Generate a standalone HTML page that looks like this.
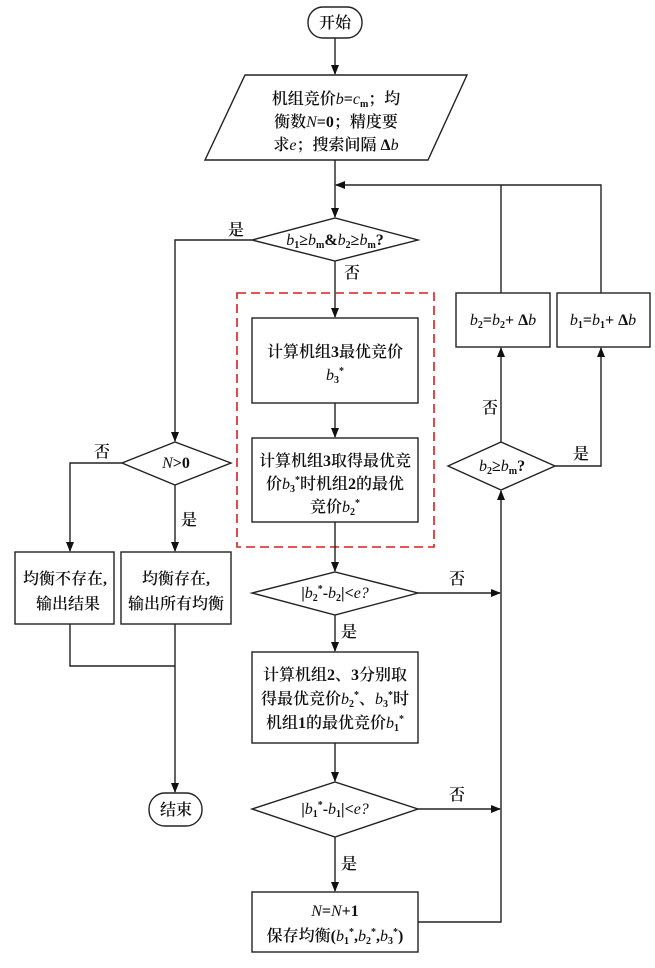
<!DOCTYPE html>
<html><head><meta charset="utf-8"><style>
html,body{margin:0;padding:0;background:#fff;}
svg text{font-family:"Liberation Serif","Noto Serif CJK SC",serif;font-size:16px;fill:#111;font-weight:600;}
.i{font-style:italic;font-weight:400;}
</style></head><body>
<svg width="655" height="963" viewBox="0 0 655 963" xmlns="http://www.w3.org/2000/svg">
<defs><marker id="a" markerWidth="10" markerHeight="10" refX="9" refY="5" orient="auto" markerUnits="userSpaceOnUse"><path d="M0,1 L10,5 L0,9 Z" fill="#111"/></marker></defs>
<g stroke="#222" stroke-width="1.4" fill="none">
<rect x="308" y="7" width="54" height="31" rx="15"/>
<polygon points="245,75 467,75 428,160 205,160"/>
<line x1="335" y1="38" x2="335" y2="74" marker-end="url(#a)"/>
<line x1="335" y1="160" x2="335" y2="217" marker-end="url(#a)"/>
<polygon points="252,240 335,218 418,240 335,261"/>
<polyline points="601,293 601,185 336,185" marker-end="url(#a)"/>
<line x1="501" y1="293" x2="501" y2="185"/>
<polyline points="252,240 175,240 175,441" marker-end="url(#a)"/>
<line x1="335" y1="261" x2="335" y2="317" marker-end="url(#a)"/>
<rect x="237" y="293" width="197" height="254" stroke="#d81e1e" stroke-width="1.6" stroke-dasharray="9,5"/>
<rect x="252" y="318" width="166" height="85"/>
<line x1="335" y1="403" x2="335" y2="437" marker-end="url(#a)"/>
<rect x="252" y="438" width="166" height="84"/>
<line x1="335" y1="522" x2="335" y2="571" marker-end="url(#a)"/>
<polygon points="252,593 335,572 418,593 335,615"/>
<line x1="418" y1="593" x2="500" y2="593" marker-end="url(#a)"/>
<line x1="335" y1="615" x2="335" y2="651" marker-end="url(#a)"/>
<rect x="252" y="652" width="166" height="91"/>
<line x1="335" y1="743" x2="335" y2="781" marker-end="url(#a)"/>
<polygon points="252,809 335,782 418,809 335,837"/>
<line x1="418" y1="809" x2="500" y2="809" marker-end="url(#a)"/>
<line x1="335" y1="837" x2="335" y2="891" marker-end="url(#a)"/>
<rect x="252" y="892" width="166" height="60"/>
<polyline points="418,922 501,922 501,491" marker-end="url(#a)"/>
<polygon points="448,466 501,442 555,466 501,490"/>
<line x1="501" y1="442" x2="501" y2="348" marker-end="url(#a)"/>
<rect x="456" y="293" width="94" height="54"/>
<polyline points="555,466 601,466 601,348" marker-end="url(#a)"/>
<rect x="557" y="293" width="93" height="54"/>
<polygon points="122,463 175,442 231,463 175,485"/>
<polyline points="122,463 70,463 70,551" marker-end="url(#a)"/>
<line x1="175" y1="485" x2="175" y2="551" marker-end="url(#a)"/>
<rect x="15" y="552" width="99" height="72"/>
<rect x="121" y="552" width="110" height="72"/>
<polyline points="70,624 70,666 175,666"/>
<line x1="175" y1="624" x2="175" y2="792" marker-end="url(#a)"/>
<rect x="149" y="793" width="53" height="33" rx="16"/>
</g>
<g text-anchor="middle">
<text x="335" y="28">开始</text>
<text x="336" y="104">机组竞价<tspan class="i">b</tspan>=<tspan class="i">c</tspan><tspan font-size="10" dy="3">m</tspan><tspan dy="-3">；均</tspan></text>
<text x="336" y="127">衡数<tspan class="i">N</tspan>=0；精度要</text>
<text x="336" y="150">求<tspan class="i">e</tspan>；搜索间隔 Δ<tspan class="i">b</tspan></text>
<text x="335" y="245"><tspan class="i">b</tspan><tspan font-size="10" dy="3">1</tspan><tspan dy="-3">≥</tspan><tspan class="i">b</tspan><tspan font-size="10" dy="3">m</tspan><tspan dy="-3">&amp;</tspan><tspan class="i">b</tspan><tspan font-size="10" dy="3">2</tspan><tspan dy="-3">≥</tspan><tspan class="i">b</tspan><tspan font-size="10" dy="3">m</tspan><tspan dy="-3">?</tspan></text>
<text x="335" y="357">计算机组3最优竞价</text>
<text x="335" y="380"><tspan class="i">b</tspan><tspan font-size="10" dy="3">3</tspan><tspan font-size="10" dy="-9">*</tspan></text>
<text x="335" y="466">计算机组3取得最优竞</text>
<text x="335" y="489">价<tspan class="i">b</tspan><tspan font-size="10" dy="3">3</tspan><tspan font-size="10" dy="-9">*</tspan><tspan dy="6">时机组2的最优</tspan></text>
<text x="335" y="512">竞价<tspan class="i">b</tspan><tspan font-size="10" dy="3">2</tspan><tspan font-size="10" dy="-9">*</tspan></text>
<text x="335" y="598">|<tspan class="i">b</tspan><tspan font-size="10" dy="3">2</tspan><tspan font-size="10" dy="-9">*</tspan><tspan dy="6">-</tspan><tspan class="i">b</tspan><tspan font-size="10" dy="3">2</tspan><tspan dy="-3">|&lt;</tspan><tspan class="i">e?</tspan></text>
<text x="335" y="680">计算机组2、3分别取</text>
<text x="335" y="704">得最优竞价<tspan class="i">b</tspan><tspan font-size="10" dy="3">2</tspan><tspan font-size="10" dy="-9">*</tspan><tspan dy="6">、</tspan><tspan class="i">b</tspan><tspan font-size="10" dy="3">3</tspan><tspan font-size="10" dy="-9">*</tspan><tspan dy="6">时</tspan></text>
<text x="335" y="728">机组1的最优竞价<tspan class="i">b</tspan><tspan font-size="10" dy="3">1</tspan><tspan font-size="10" dy="-9">*</tspan></text>
<text x="335" y="814">|<tspan class="i">b</tspan><tspan font-size="10" dy="3">1</tspan><tspan font-size="10" dy="-9">*</tspan><tspan dy="6">-</tspan><tspan class="i">b</tspan><tspan font-size="10" dy="3">1</tspan><tspan dy="-3">|&lt;</tspan><tspan class="i">e?</tspan></text>
<text x="335" y="916"><tspan class="i">N</tspan>=<tspan class="i">N</tspan>+1</text>
<text x="335" y="941">保存均衡(<tspan class="i">b</tspan><tspan font-size="10" dy="3">1</tspan><tspan font-size="10" dy="-9">*</tspan><tspan dy="6">,</tspan><tspan class="i">b</tspan><tspan font-size="10" dy="3">2</tspan><tspan font-size="10" dy="-9">*</tspan><tspan dy="6">,</tspan><tspan class="i">b</tspan><tspan font-size="10" dy="3">3</tspan><tspan font-size="10" dy="-9">*</tspan><tspan dy="6">)</tspan></text>
<text x="502" y="471"><tspan class="i">b</tspan><tspan font-size="10" dy="3">2</tspan><tspan dy="-3">≥</tspan><tspan class="i">b</tspan><tspan font-size="10" dy="3">m</tspan><tspan dy="-3">?</tspan></text>
<text x="503" y="325"><tspan class="i">b</tspan><tspan font-size="10" dy="3">2</tspan><tspan dy="-3">=</tspan><tspan class="i">b</tspan><tspan font-size="10" dy="3">2</tspan><tspan dy="-3">+ Δ</tspan><tspan class="i">b</tspan></text>
<text x="603" y="325"><tspan class="i">b</tspan><tspan font-size="10" dy="3">1</tspan><tspan dy="-3">=</tspan><tspan class="i">b</tspan><tspan font-size="10" dy="3">1</tspan><tspan dy="-3">+ Δ</tspan><tspan class="i">b</tspan></text>
<text x="176" y="468"><tspan class="i">N</tspan>&gt;0</text>
<text x="65" y="584">均衡不存在,</text>
<text x="68" y="609">输出结果</text>
<text x="176" y="584">均衡存在,</text>
<text x="176" y="609">输出所有均衡</text>
<text x="176" y="815">结束</text>
<text x="236" y="235">是</text>
<text x="352" y="278">否</text>
<text x="457" y="584">否</text>
<text x="349" y="637">是</text>
<text x="457" y="800">否</text>
<text x="349" y="869">是</text>
<text x="490" y="413">否</text>
<text x="581" y="459">是</text>
<text x="102" y="457">否</text>
<text x="189" y="525">是</text>
</g>
</svg>
</body></html>
